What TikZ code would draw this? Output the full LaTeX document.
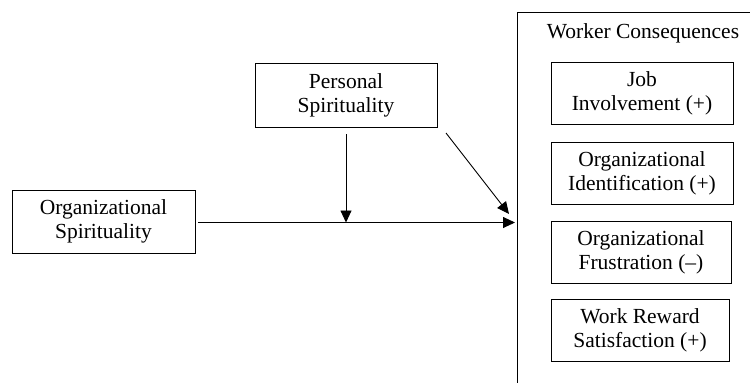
\documentclass[tikz,border=0pt]{standalone}
\usepackage{fontspec}
\setmainfont{Liberation Serif}
\usetikzlibrary{arrows.meta}

\newlength{\du}
\setlength{\du}{1pt}

\tikzset{
  varbox/.style={draw, line width=0.9pt, align=center, inner sep=0pt,
    minimum width=182pt, minimum height=62pt, font=\fontsize{21.5}{24}\selectfont},
  pathline/.style={line width=0.9pt, -{Triangle[length=12pt,width=11pt]}}
}

\begin{document}
\begin{tikzpicture}
\pgftransformxscale{1.000000}
\pgftransformyscale{-1.000000}
\useasboundingbox (0\du,0\du) rectangle (750\du,383\du);
% outer frame, cut by the page edge
\draw[line width=0.9pt] (750\du,12\du)--(517\du,12\du)--(517\du,383\du);
\node[font=\fontsize{21.5}{24}\selectfont] (title) at (643\du,33\du){Worker Consequences};
% predictors
\node[varbox, minimum width=183pt, minimum height=63pt] (orgspirit) at (103.5\du,221.5\du){Organizational\\Spirituality};
\node[varbox, minimum height=64pt] (perspirit) at (346\du,95\du){Personal\\Spirituality};
% consequences
\node[varbox] (job) at (642\du,93\du){Job\\Involvement (+)};
\node[varbox] (ident) at (642\du,173\du){Organizational\\Identification (+)};
\node[varbox, minimum width=180pt] (frust) at (641\du,252\du){Organizational\\Frustration (--)};
\node[varbox, minimum width=178pt] (reward) at (640\du,330\du){Work Reward\\Satisfaction (+)};
% arrow ends
\coordinate (target) at (515\du,222.5\du);
\coordinate (meet) at (346\du,222.5\du);
\coordinate (diagstart) at (446\du,133\du);
\coordinate (diagend) at (509\du,214\du);
\draw[pathline, shorten <=3pt] (orgspirit.east |- target)--(target);
\draw[pathline, shorten <=7pt] (perspirit.south)--(meet);
\draw[pathline] (diagstart)--(diagend);
\end{tikzpicture}
\end{document}
